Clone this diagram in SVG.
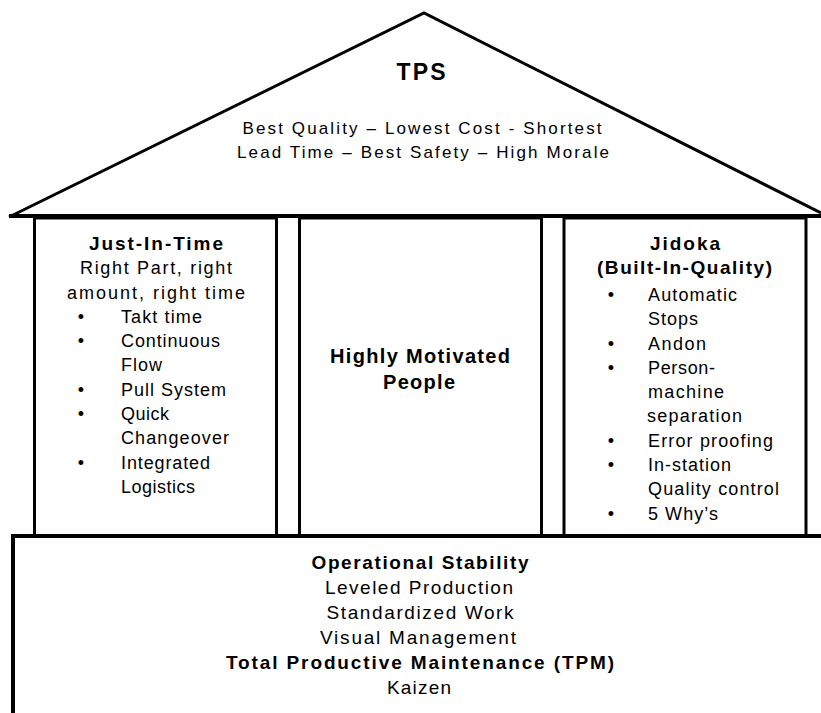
<svg xmlns="http://www.w3.org/2000/svg" width="821" height="713" viewBox="0 0 821 713">
  <style>
    .line { fill: none; stroke: #000; stroke-width: 3; }
    .beam { fill: none; stroke: #000; stroke-width: 4; }
    .pillar { fill: #fff; stroke: #000; stroke-width: 3; }
    text { font-family: "Liberation Sans", Arial, sans-serif; fill: #000; }
    .c { text-anchor: middle; }
    .b { font-weight: bold; }
    .roof { font-size: 17px; }
    .item { font-size: 18px; }
    .head { font-size: 19px; }
    .base { font-size: 19px; }
    .dot { font-size: 18px; text-anchor: middle; }
  </style>
  <rect width="821" height="713" fill="#fff"/>

  <!-- roof -->
  <g id="roof">
    <polyline class="line" points="9,217 424,13 821,213" stroke-linejoin="miter"/>
    <line class="beam" x1="9" y1="216" x2="821" y2="216"/>
    <text class="c b" x="421" y="80" font-size="23" textLength="49" lengthAdjust="spacing">TPS</text>
    <text class="c roof" x="422" y="134" textLength="359" lengthAdjust="spacing">Best Quality – Lowest Cost - Shortest</text>
    <text class="c roof" x="423" y="158" textLength="372" lengthAdjust="spacing">Lead Time – Best Safety – High Morale</text>
  </g>

  <!-- left pillar -->
  <g id="just-in-time">
    <rect class="pillar" x="34.5" y="218" width="242" height="318"/>
    <text class="c b head" x="156" y="250" textLength="134" lengthAdjust="spacing">Just-In-Time</text>
    <text class="c item" x="156" y="274" textLength="152" lengthAdjust="spacing">Right Part, right</text>
    <text class="c item" x="156" y="299" textLength="178" lengthAdjust="spacing">amount, right time</text>
    <text class="dot" x="81" y="323">•</text>
    <text class="item" x="121" y="323" textLength="81" lengthAdjust="spacing">Takt time</text>
    <text class="dot" x="81" y="347">•</text>
    <text class="item" x="121" y="347" textLength="99" lengthAdjust="spacing">Continuous</text>
    <text class="item" x="121" y="371" textLength="41" lengthAdjust="spacing">Flow</text>
    <text class="dot" x="81" y="396">•</text>
    <text class="item" x="121" y="396" textLength="105" lengthAdjust="spacing">Pull System</text>
    <text class="dot" x="81" y="420">•</text>
    <text class="item" x="121" y="420" textLength="48" lengthAdjust="spacing">Quick</text>
    <text class="item" x="121" y="444" textLength="108" lengthAdjust="spacing">Changeover</text>
    <text class="dot" x="81" y="469">•</text>
    <text class="item" x="121" y="469" textLength="89" lengthAdjust="spacing">Integrated</text>
    <text class="item" x="121" y="493" textLength="74" lengthAdjust="spacing">Logistics</text>
  </g>

  <!-- middle pillar -->
  <g id="people">
    <rect class="pillar" x="299.5" y="218" width="242" height="318"/>
    <text class="c b" x="420" y="363" font-size="20" textLength="180" lengthAdjust="spacing">Highly Motivated</text>
    <text class="c b" x="419" y="389" font-size="20" textLength="72" lengthAdjust="spacing">People</text>
  </g>

  <!-- right pillar -->
  <g id="jidoka">
    <rect class="pillar" x="564" y="218" width="242" height="318"/>
    <text class="c b head" x="685" y="250" textLength="70" lengthAdjust="spacing">Jidoka</text>
    <text class="c b head" x="684.5" y="274" textLength="175" lengthAdjust="spacing">(Built-In-Quality)</text>
    <text class="dot" x="611" y="301">•</text>
    <text class="item" x="648" y="301" textLength="89" lengthAdjust="spacing">Automatic</text>
    <text class="item" x="648" y="325" textLength="50" lengthAdjust="spacing">Stops</text>
    <text class="dot" x="611" y="350">•</text>
    <text class="item" x="648" y="350" textLength="58" lengthAdjust="spacing">Andon</text>
    <text class="dot" x="611" y="374">•</text>
    <text class="item" x="648" y="374" textLength="67" lengthAdjust="spacing">Person-</text>
    <text class="item" x="648" y="398" textLength="76" lengthAdjust="spacing">machine</text>
    <text class="item" x="647" y="422" textLength="95" lengthAdjust="spacing">separation</text>
    <text class="dot" x="611" y="447">•</text>
    <text class="item" x="648" y="447" textLength="125" lengthAdjust="spacing">Error proofing</text>
    <text class="dot" x="611" y="471">•</text>
    <text class="item" x="648" y="471" textLength="83" lengthAdjust="spacing">In-station</text>
    <text class="item" x="648" y="495" textLength="131" lengthAdjust="spacing">Quality control</text>
    <text class="dot" x="611" y="520">•</text>
    <text class="item" x="648" y="520" textLength="70" lengthAdjust="spacing">5 Why’s</text>
  </g>

  <!-- foundation -->
  <g id="stability">
    <path class="beam" d="M13,713 V536 H821"/>
    <text class="c b base" x="420" y="569" textLength="217" lengthAdjust="spacing">Operational Stability</text>
    <text class="c base" x="419" y="594" textLength="188" lengthAdjust="spacing">Leveled Production</text>
    <text class="c base" x="420" y="619" textLength="187" lengthAdjust="spacing">Standardized Work</text>
    <text class="c base" x="418" y="644" textLength="196" lengthAdjust="spacing">Visual Management</text>
    <text class="c b base" x="420" y="669" textLength="388" lengthAdjust="spacing">Total Productive Maintenance (TPM)</text>
    <text class="c base" x="419" y="694" textLength="64" lengthAdjust="spacing">Kaizen</text>
  </g>

  <g id="connectors"/>
</svg>
